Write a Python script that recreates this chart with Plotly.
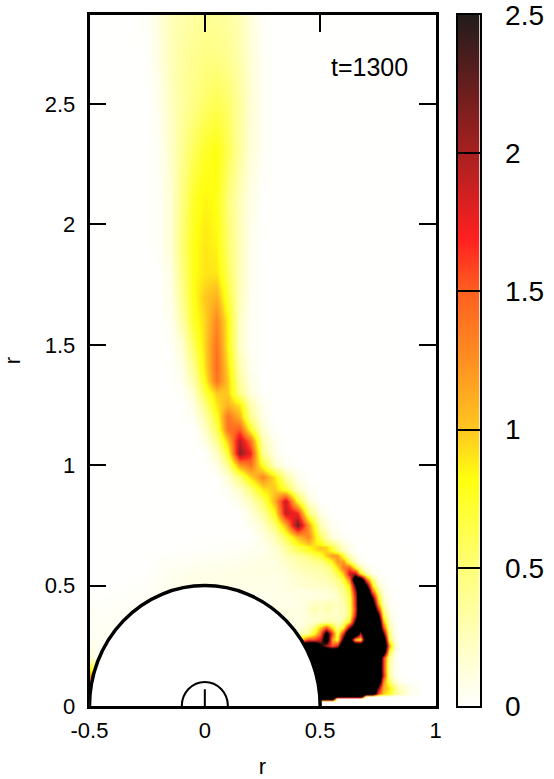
import plotly.graph_objects as go

FONT = "Liberation Sans"

# density, rows listed from the top of the plot down
x_coarse = [-0.5, -0.45, -0.4, -0.35, -0.3, -0.25, -0.2, -0.15, -0.1, -0.05, 0, 0.05, 0.1, 0.15,
            0.2, 0.25, 0.3, 0.35, 0.4, 0.45, 0.5, 0.55, 0.6, 0.65, 0.7, 0.75, 0.8]
y_coarse = [2.86, 2.7, 2.5, 2.3, 2.1, 1.9, 1.8, 1.7, 1.6, 1.5, 1.4, 1.35, 1.3, 1.25, 1.2, 1.15, 1.1,
            1.05, 1.0, 0.95, 0.9, 0.85, 0.8, 0.75, 0.7, 0.65, 0.6, 0.55, 0.5, 0.4, 0.3, 0.2, 0.15,
            0.1, 0.05, 0]
z_coarse = [
    [0]*5 + [.02, .12, .25, .3, .35, .38, .38, .35, .28, .12, .02] + [0]*11,
    [0]*5 + [.01, .1, .25, .35, .4, .45, .45, .4, .3, .14, .03] + [0]*11,
    [0]*6 + [.06, .22, .35, .45, .55, .62, .55, .35, .15, .03] + [0]*11,
    [0]*6 + [.03, .18, .4, .6, .75, .82, .62, .35, .14, .03] + [0]*11,
    [0]*6 + [.02, .15, .45, .75, .85, .8, .5, .25, .08, .01] + [0]*11,
    [0]*6 + [.02, .15, .5, .8, .9, .85, .55, .25, .06, 0] + [0]*11,
    [0]*7 + [.1, .45, .8, .9, .9, .6, .25, .05, 0] + [0]*11,
    [0]*7 + [.08, .4, .8, 1.0, 1.1, .7, .25, .04, 0] + [0]*11,
    [0]*7 + [.04, .3, .75, .95, 1.3, .85, .2, .03, 0] + [0]*11,
    [0]*7 + [.02, .15, .6, .95, 1.4, .85, .2, .03, 0] + [0]*11,
    [0]*8 + [.08, .4, .9, 1.45, .95, .3, .05, 0] + [0]*11,
    [0]*8 + [.05, .3, .8, 1.4, 1.0, .35, .08, 0] + [0]*11,
    [0]*8 + [.02, .18, .65, 1.0, 1.0, .45, .12, .02] + [0]*11,
    [0]*9 + [.1, .45, .9, 1.1, .9, .3, .05] + [0]*11,
    [0]*9 + [.05, .3, .75, 1.4, 1.1, .4, .08] + [0]*11,
    [0]*10 + [.18, .6, 1.4, 1.5, .75, .15] + [0]*11,
    [0]*10 + [.08, .4, 1.0, 1.95, 1.4, .3, .05] + [0]*10,
    [0]*11 + [.2, .7, 2.1, 1.7, .4, .08] + [0]*10,
    [0]*11 + [.08, .4, 1.2, 1.4, .75, .2, .03] + [0]*9,
    [0]*12 + [.15, .5, .95, 1.3, .9, .35, .06] + [0]*8,
    [0]*12 + [.05, .2, .5, .9, 1.0, .7, .2, .03] + [0]*7,
    [0]*13 + [.08, .25, .55, 1.1, 1.9, .75, .15] + [0]*7,
    [0]*14 + [.12, .35, .8, 1.9, 1.7, .5, .1] + [0]*6,
    [0]*14 + [.05, .18, .5, 1.1, 2.2, 1.2, .25, .04] + [0]*5,
    [0]*15 + [.1, .25, .6, 1.05, 1.3, .55, .12, .02] + [0]*4,
    [0]*9 + [.01, .01, .02, .02, .03, .04, .05, .15, .35, .6, .8, 1.0, .7, .2, .02] + [0]*3,
    [0]*6 + [.02, .03, .03, .04, .05, .05, .06, .07, .08, .1, .1] + [0]*10,
    [0]*6 + [.03, .05, .06, .08, .08, .08, .09, .1, .1, .1, .1] + [0]*10,
    [0]*4 + [.01, .02, .04, .06, .08, .08, .08, .08, .08, .08, .08, .08, .08] + [0]*10,
    [.02, .02, .03, .03, .03] + [.03]*12 + [0]*10,
    [.03, .04, .04] + [0]*24,
    [.15, .02] + [0]*25,
    [.9, .5] + [0]*25,
    [1.6, 1.2] + [0]*25,
    [1.0, .5] + [0]*25,
    [0]*27,
]

# finer patch for the dark blob at the foot of the stream
x_blob = [0.3, 0.325, 0.35, 0.375, 0.4, 0.425, 0.45, 0.475, 0.5, 0.525, 0.55, 0.575, 0.6, 0.625,
          0.65, 0.675, 0.7, 0.725, 0.75, 0.775, 0.8, 0.825, 0.85, 0.875, 0.9, 0.925]
y_blob = [0.65, 0.625, 0.6, 0.575, 0.55, 0.525, 0.5, 0.475, 0.45, 0.425, 0.4, 0.375, 0.35, 0.325,
          0.3, 0.275, 0.25, 0.225, 0.2, 0.175, 0.15, 0.125, 0.1, 0.075, 0.05, 0.04, 0.03, 0.02, 0]
z_blob = [
    [.15, .22, .35, .5, .6, .7, .8, .9, 1.0, .95, .7, .4, .2, .07, .02] + [0]*11,
    [.12, .18, .25, .3, .38, .42, .5, .6, .7, 1.0, 1.2, 1.2, .7, .25, .08, .02] + [0]*10,
    [.1, .14, .2, .25, .3, .32, .35, .4, .45, .6, .85, 1.2, 1.2, .6, .2, .05, .01] + [0]*9,
    [.1, .12, .15, .2, .25, .28, .3, .32, .35, .4, .6, .9, 1.4, 1.5, .8, .3, .08, .02] + [0]*8,
    [.1, .1, .12, .16, .2, .22, .25, .28, .28, .3, .45, .65, 1.0, 1.9, 2.0, .9, .3, .08, .02] + [0]*7,
    [.08, .1, .1, .13, .16, .18, .2, .22, .24, .26, .33, .45, .7, 1.3, 3.2, 3.2, 1.5, .5, .1, .02] + [0]*6,
    [.08, .08, .1, .12, .14, .16, .18, .2, .2, .22, .25, .35, .5, .9, 2.4, 3.5, 2.6, .9, .2, .05, .01] + [0]*5,
    [.08, .08, .08, .1, .1, .1, .1, .12, .12, .15, .18, .25, .4, .7, 2.0, 3.5, 3.5, 1.5, .5, .1, .02] + [0]*5,
    [.08, .08, .08, .08, .1, .1, .1, .12, .12, .12, .15, .2, .35, .6, 1.8, 3.5, 3.5, 2.4, .8, .18, .03] + [0]*5,
    [.08, .08, .08, .08, .08, .1, .15, .25, .2, .28, .25, .22, .3, .55, 1.8, 3.5, 3.5, 3, 1.1, .25, .05] + [0]*5,
    [.1, .1, .1, .1, .1, .12, .18, .3, .2, .3, .22, .2, .25, .5, 1.7, 3.5, 3.5, 3.5, 1.8, .45, .08, .01] + [0]*4,
    [.1, .1, .1, .1, .1, .12, .14, .2, .18, .22, .2, .2, .25, .55, 1.9, 3.5, 3.5, 3.5, 2.6, .7, .12, .02] + [0]*4,
    [.1, .1, .1, .1, .1, .1, .14, .16, .25, .3, .3, .2, .4, .8, 2.5, 3.5, 3.5, 3.5, 3.2, 1.1, .2, .03] + [0]*4,
    [.1, .1, .1, .1, .1, .15, .25, .5, 1.0, 1.5, .9, .4, .8, 2.2, 3.0, 3, 3.5, 3.5, 3.5, 1.6, .3, .04] + [0]*4,
    [.2, .2, .2, .2, .2, .3, .4, .8, 1.4, 2.8, 1.6, .6, 1.8, 3.5, 3.5, 2.0, 3.5, 3.5, 3.5, 2.4, .4, .06] + [0]*4,
    [1, 1, 1, 1, 1, 1.2, 1.6, 1.6, 1.9, 3.0, 1.2, .7, 2.6, 3.2, 1.0, .8, 3.5, 3.5, 3.5, 3.2, .6, .08] + [0]*4,
    [3.5]*8 + [2.6, 2.0, 1.5, 1.8] + [3.5]*8 + [1.2, .15] + [0]*4,
    [3.5]*19 + [3.2, .7, .1] + [0]*4,
    [3.5]*19 + [1.8, .35, .05] + [0]*4,
    [3.5]*19 + [1.7, .3, .05] + [0]*4,
    [3.5]*19 + [1.7, .3, .05] + [0]*4,
    [3.5]*19 + [1.8, .35, .05] + [0]*4,
    [3.5]*18 + [3.2, 1.3, .55, .15, .05, .02, 0, 0],
    [3.5]*18 + [2.2, 1.1, .9, .4, .2, .1, .05, .02],
    [3.5]*18 + [1.6, 1.0, .8, .4, .25, .12, .05, .02],
    [3.5]*16 + [0]*10,
    [3.5]*11 + [0]*15,
    [0]*26,
    [0]*26,
]

# colour bar levels, one per colour stop
bar_levels = [0, 0.5, 0.82, 1, 1.25, 1.5, 1.69, 2, 2.5]

tick_x = [-0.5, 0, 0.5, 1]
tick_x_text = ["-0.5", "0", "0.5", "1"]
tick_y = [0, 0.5, 1, 1.5, 2, 2.5]
tick_y_text = ["0", "0.5", "1", "1.5", "2", "2.5"]

hot = [[0, "#fffffd"], [0.2, "#ffff78"], [0.328, "#ffff10"], [0.4, "#ffc820"], [0.5, "#ff9020"],
       [0.6, "#ff6020"], [0.676, "#ff2020"], [0.8, "#a82020"], [1, "#221c1c"]]
hot_blob = hot[:-1] + [[1, "#000000"]]

W, H = 554, 779
L, R, T, B = 89.5, 435.5, 15, 706

fig = go.Figure()
fig.add_trace(go.Heatmap(
    x=x_coarse, y=y_coarse[::-1], z=z_coarse[::-1], zmin=0, zmax=2.5, zsmooth="best",
    colorscale=hot, showscale=False, hoverinfo="skip",
))
fig.add_trace(go.Heatmap(
    x=x_blob, y=y_blob[::-1], z=z_blob[::-1], zmin=0, zmax=2.5, zsmooth="best",
    colorscale=hot_blob, showscale=False, hoverinfo="skip",
))
# colour bar as its own small axes, so the ticks can cross it and the labels stand off
fig.add_trace(go.Heatmap(
    x=[0, 1], y=bar_levels, z=[[v, v] for v in bar_levels], zmin=0, zmax=2.5, zsmooth="best",
    colorscale=hot, showscale=False, hoverinfo="skip", xaxis="x2", yaxis="y2",
))

# the two spheres sit on top of the field
fig.add_shape(type="circle", xref="x", yref="y", x0=-0.5, x1=0.5, y0=-0.5, y1=0.5,
              fillcolor="white", line=dict(color="black", width=3.5))
fig.add_shape(type="circle", xref="x", yref="y", x0=-0.1, x1=0.1, y0=-0.1, y1=0.1,
              line=dict(color="black", width=2))
fig.add_shape(type="line", xref="x", yref="y", x0=0, x1=0, y0=0, y1=0.07,
              line=dict(color="black", width=2))

fig.add_annotation(x=0.715, y=2.654, xref="x", yref="y", text="t=1300", showarrow=False,
                   font=dict(family=FONT, size=25, color="black"))

axis_style = dict(
    showgrid=False, zeroline=False, showline=True, linecolor="black", linewidth=2.5,
    mirror="ticks", ticks="inside", ticklen=17, tickwidth=2, tickcolor="black",
    tickfont=dict(family=FONT, size=22, color="black"),
)
fig.update_xaxes(range=[-0.5, 1], domain=[L / W, R / W], tickvals=tick_x, ticktext=tick_x_text,
                 title=dict(text="r", standoff=17, font=dict(family=FONT, size=22, color="black")),
                 ticklabelstandoff=3, **axis_style)
fig.update_yaxes(range=[0, (B - T) / 240.8], domain=[(H - B) / H, (H - T) / H], tickvals=tick_y,
                 ticktext=tick_y_text,
                 title=dict(text="r", standoff=19, font=dict(family=FONT, size=22, color="black")),
                 ticklabelstandoff=7, **axis_style)
fig.update_layout(
    width=W, height=H, autosize=False,
    margin=dict(l=0, r=0, t=0, b=0, autoexpand=False),
    paper_bgcolor="white", plot_bgcolor="white", showlegend=False,
    xaxis2=dict(domain=[457.5 / W, 479.5 / W], range=[0, 1], anchor="y2", showticklabels=False,
                ticks="", showgrid=False, zeroline=False, showline=True, mirror=True,
                linecolor="black", linewidth=2),
    yaxis2=dict(domain=[(H - B) / H, (H - T) / H], range=[0, 2.5], anchor="x2", side="right",
                tickvals=tick_y, ticktext=tick_y_text, ticks="inside", ticklen=22, tickwidth=2,
                tickcolor="black", ticklabelstandoff=18, ticklabeloverflow="allow",
                showgrid=False, zeroline=False,
                showline=True, mirror=True, linecolor="black", linewidth=2,
                tickfont=dict(family=FONT, size=28, color="black")),
)
fig.write_html("out.html", config={"displayModeBar": False},
               post_script="document.body.style.margin = '0';")
